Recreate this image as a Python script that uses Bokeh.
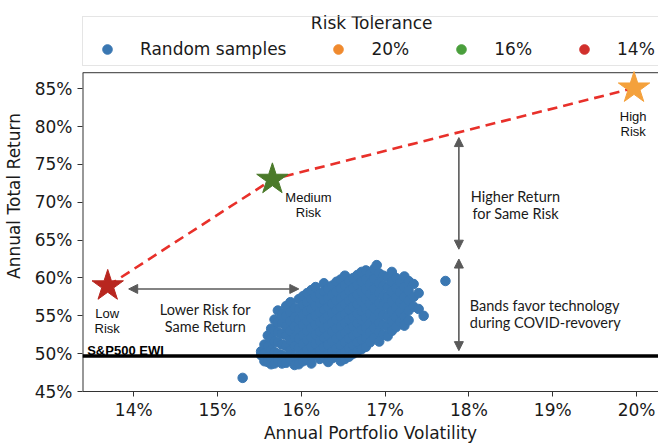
from bokeh.plotting import figure
from bokeh.models import Range1d, FixedTicker, Span, Label, Arrow, NormalHead, Legend, LegendItem
from bokeh.embed import file_html
from bokeh.resources import INLINE

# ---------------- data ----------------
x_ticks = [14, 15, 16, 17, 18, 19, 20]
x_tick_labels = ["14%", "15%", "16%", "17%", "18%", "19%", "20%"]
y_ticks = [45, 50, 55, 60, 65, 70, 75, 80, 85]
y_tick_labels = ["45%", "50%", "55%", "60%", "65%", "70%", "75%", "80%", "85%"]

# random portfolio samples, read column by column (volatility %, returns %)
sample_cols_vol = [15.30, 15.52, 15.56, 15.60, 15.64, 15.68, 15.72, 15.77, 15.82, 15.87,
                   15.92, 15.97, 16.02, 16.07, 16.12, 16.17, 16.22, 16.27, 16.32, 16.37,
                   16.42, 16.47, 16.52, 16.57, 16.62, 16.67, 16.72, 16.77, 16.82, 16.87,
                   16.90, 16.93, 16.98, 17.03, 17.08, 17.13, 17.18, 17.23, 17.28, 17.34,
                   17.40, 17.46, 17.72]
sample_cols_ret = [
    [46.8],
    [50.3, 49.8],
    [51.2, 50.0, 49.0],
    [52.4, 51.0, 49.6, 48.9],
    [53.3, 52.0, 50.5, 49.4, 48.6],
    [54.5, 53.0, 51.6, 50.2, 48.7],
    [55.7, 54.1, 52.8, 51.5, 50.0, 49.1],
    [55.2, 54.0, 52.6, 51.2, 49.8, 48.7],
    [56.3, 55.0, 53.6, 52.4, 51.0, 49.6, 48.8],
    [56.8, 55.5, 54.3, 53.0, 51.8, 50.4, 49.2],
    [56.0, 54.8, 53.6, 52.2, 51.0, 49.6, 48.5],
    [57.2, 55.9, 54.5, 53.2, 52.0, 50.7, 49.5, 48.6],
    [57.6, 56.4, 55.1, 53.8, 52.5, 51.3, 50.0, 49.0],
    [58.0, 56.8, 55.6, 54.3, 53.0, 51.8, 50.5, 49.2],
    [58.4, 57.2, 55.9, 54.7, 53.4, 52.1, 50.9, 49.6, 48.7],
    [58.8, 57.5, 56.3, 55.0, 53.8, 52.5, 51.3, 50.0],
    [57.9, 56.7, 55.5, 54.2, 52.9, 51.7, 50.4, 49.3],
    [59.3, 58.2, 57.0, 55.8, 54.6, 53.3, 52.1, 50.8, 49.6],
    [58.6, 57.4, 56.2, 55.0, 53.7, 52.5, 51.2, 50.0, 48.9],
    [59.0, 57.8, 56.6, 55.4, 54.1, 52.9, 51.6, 50.3, 49.4],
    [59.5, 58.2, 57.0, 55.7, 54.5, 53.3, 52.0, 50.7, 49.6],
    [59.8, 58.6, 57.3, 56.1, 54.9, 53.6, 52.4, 51.1, 49.9, 49.0],
    [60.3, 59.0, 57.7, 56.5, 55.2, 54.0, 52.7, 51.5, 50.2, 49.3],
    [59.6, 58.3, 57.0, 55.8, 54.5, 53.2, 52.0, 50.7, 49.6],
    [60.0, 58.7, 57.4, 56.2, 54.9, 53.6, 52.4, 51.1, 50.0],
    [60.4, 59.1, 57.8, 56.5, 55.3, 54.0, 52.7, 51.5, 50.3],
    [60.8, 59.5, 58.2, 56.9, 55.6, 54.4, 53.1, 51.8, 50.6],
    [61.0, 59.8, 58.5, 57.2, 55.9, 54.7, 53.4, 52.1, 50.9],
    [60.5, 59.2, 57.9, 56.6, 55.3, 54.0, 52.8, 51.5],
    [61.2, 59.9, 58.6, 57.3, 56.0, 54.7, 53.4, 52.1],
    [61.7],
    [60.6, 59.3, 58.0, 56.7, 55.4, 54.1, 52.8, 51.6],
    [60.3, 59.0, 57.7, 56.4, 55.1, 53.8, 52.5],
    [60.1, 58.8, 57.5, 56.2, 54.9, 53.6, 52.3],
    [60.8, 59.5, 58.2, 56.9, 55.6, 54.3, 53.0],
    [60.0, 58.7, 57.4, 56.1, 54.8, 53.5],
    [59.4, 58.1, 56.8, 55.5, 54.2],
    [60.2, 58.8, 57.5, 56.2, 54.9, 53.7],
    [59.6, 58.3, 57.0, 55.7, 54.4],
    [59.2, 57.5, 56.2],
    [58.0, 55.9],
    [55.0],
    [59.6],
]

# optimal portfolios for each risk tolerance (14%, 16%, 20%)
risk_vol = [13.69, 15.655, 19.97]
risk_ret = [58.95, 73.03, 85.09]
sp500_ewi = 49.7
legend_labels = ["Random samples", "20%", "16%", "14%"]

# ---------------- styles / geometry ----------------
BLUE = "#3a77b2"
STAR_COLORS = ["#b8261f", "#4b7a2a", "#f4a13c"]
LEG_COLORS = ["#f08a2e", "#4a9f3c", "#d1302c"]
DJ = "DejaVu Sans"
ANN_FONT = "Lato"
ARROW_COLOR = "#5a5a5a"
SPINE = "#333333"
NAN = float("nan")

X0, X1 = 13.389, 20.262
Y0, Y1 = 45.0, 96.66
Y_TOP = 87.12  # top spine of the axes box

samples_vol = []
samples_ret = []
for v, rets in zip(sample_cols_vol, sample_cols_ret):
    for r in rets:
        samples_vol.append(v)
        samples_ret.append(r)

p = figure(width=658, height=445, title=None,
           x_range=Range1d(X0, X1), y_range=Range1d(Y0, Y1),
           output_backend="svg", toolbar_location=None,
           min_border_left=82, min_border_right=0, min_border_top=0, min_border_bottom=52)
p.xgrid.visible = False
p.ygrid.visible = False
p.outline_line_color = None

for ax, ticks, labels in ((p.xaxis[0], x_ticks, x_tick_labels), (p.yaxis[0], y_ticks, y_tick_labels)):
    ax.ticker = FixedTicker(ticks=ticks)
    ax.major_label_overrides = {t: l for t, l in zip(ticks, labels)}
    ax.major_label_text_font = DJ
    ax.major_label_text_font_size = "17px"
    ax.major_label_text_color = "#1a1a1a"
    ax.axis_label_text_font = DJ
    ax.axis_label_text_font_size = "17px"
    ax.axis_label_text_font_style = "normal"
    ax.axis_label_text_color = "#1a1a1a"
    ax.major_tick_out = 5
    ax.major_tick_in = 0
    ax.minor_tick_out = 0
    ax.minor_tick_in = 0
    ax.axis_line_color = SPINE
    ax.major_tick_line_color = SPINE

p.xaxis.major_label_standoff = 3
p.xaxis.axis_label_standoff = 0
p.xaxis.major_label_text_line_height = 0.9
p.xaxis.axis_label_text_line_height = 0.9
p.yaxis.major_label_standoff = 5
p.yaxis.axis_label_standoff = 8
p.yaxis.axis_line_color = None

p.xaxis.axis_label = "Annual Portfolio Volatility"
p.yaxis.axis_label = "Annual Total Return"

# axes box spines (left and top), legend sits above the box
p.segment(x0=[X0], y0=[Y0], x1=[X0], y1=[Y_TOP], line_color=SPINE, line_width=2)
p.segment(x0=[X0], y0=[Y_TOP], x1=[X1], y1=[Y_TOP], line_color=SPINE, line_width=1)

# samples
r_samples = p.scatter(samples_vol, samples_ret, size=9.5, color=BLUE)

# efficient frontier dashed line + stars
p.line(risk_vol, risk_ret, line_color="#e8302a", line_width=2.6, line_dash="10 6")
p.scatter(risk_vol, risk_ret, marker="star", size=33, color=STAR_COLORS)

# legend proxies (not drawn in the plot)
leg_renderers = [r_samples] + [p.scatter(x=[NAN], y=[NAN], size=10, color=c) for c in LEG_COLORS]
legend = Legend(items=[LegendItem(label=lab, renderers=[r]) for lab, r in zip(legend_labels, leg_renderers)],
                orientation="horizontal", location=(0, 325), title=" ",
                title_text_font=DJ, title_text_font_size="12px", title_standoff=2,
                padding=4, spacing=32, label_standoff=13, glyph_width=40, glyph_height=24,
                label_text_font=DJ, label_text_font_size="17px", label_text_color="#1a1a1a",
                border_line_color="#cccccc", border_line_width=1, margin=0,
                background_fill_alpha=0)
p.add_layout(legend)
p.add_layout(Label(x=16.84, y=93.74, text="Risk Tolerance", text_align="center", text_baseline="middle",
                   text_font=DJ, text_font_size="17px", text_color="#1a1a1a"))

# S&P500 EWI line
p.add_layout(Span(location=sp500_ewi, dimension="width", line_color="black", line_width=3.5))
p.add_layout(Label(x=13.445, y=50.45, text="S&P500 EWI", text_baseline="alphabetic",
                   text_font="Liberation Sans", text_font_style="bold", text_font_size="13px",
                   text_color="black"))

# star labels
def star_label(x, y, txt):
    p.add_layout(Label(x=x, y=y, text=txt, text_align="center", text_baseline="alphabetic",
                       text_font="Liberation Sans", text_font_size="13px", text_color="#111111"))

star_label(13.683, 55.3, "Low")
star_label(13.683, 53.33, "Risk")
star_label(16.085, 70.57, "Medium")
star_label(16.085, 68.6, "Risk")
star_label(19.96, 81.38, "High")
star_label(19.96, 79.4, "Risk")

# arrows
def dbl_arrow(x0, y0, x1, y1):
    p.add_layout(Arrow(x_start=x0, y_start=y0, x_end=x1, y_end=y1,
                       start=NormalHead(size=9, fill_color=ARROW_COLOR, line_color=ARROW_COLOR, line_width=1),
                       end=NormalHead(size=9, fill_color=ARROW_COLOR, line_color=ARROW_COLOR, line_width=1),
                       line_color=ARROW_COLOR, line_width=1.6))

dbl_arrow(13.94, 58.55, 15.97, 58.55)
dbl_arrow(17.88, 78.55, 17.88, 63.8)
dbl_arrow(17.88, 62.5, 17.88, 50.4)

def ann(x, y, txt, align):
    p.add_layout(Label(x=x, y=y, text=txt, text_align=align, text_baseline="alphabetic",
                       text_font=ANN_FONT, text_font_size="14.5px", text_color="#1a1a1a"))

ann(14.855, 55.83, "Lower Risk for", "center")
ann(14.855, 53.59, "Same Return", "center")
ann(18.557, 70.79, "Higher Return", "center")
ann(18.557, 68.55, "for Same Risk", "center")
ann(18.01, 56.39, "Bands favor technology", "left")
ann(18.01, 54.12, "during COVID-revovery", "left")

open("out.html", "w").write(file_html(p, INLINE))
